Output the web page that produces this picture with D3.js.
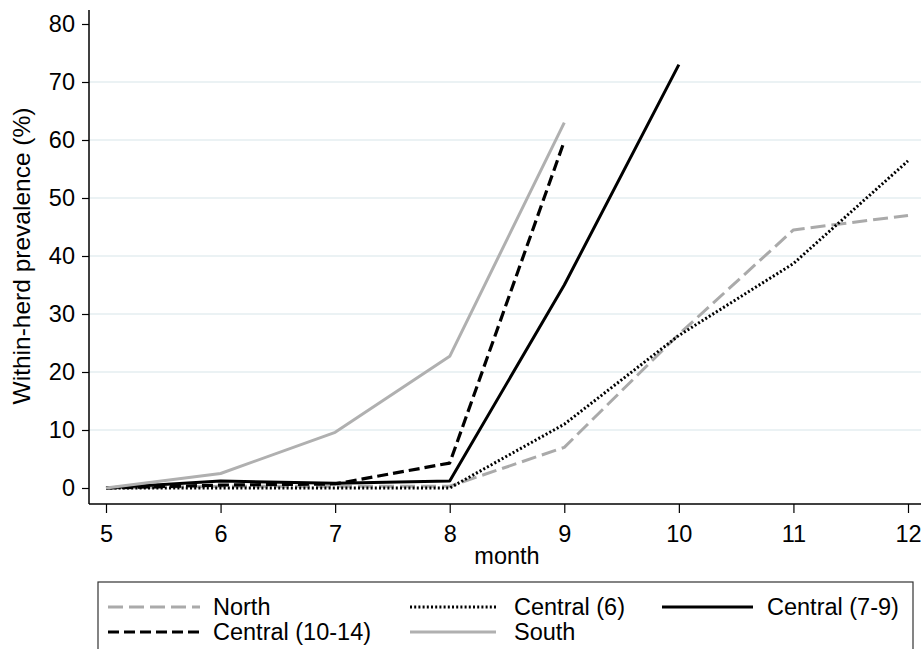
<!DOCTYPE html>
<html>
<head>
<meta charset="utf-8">
<script src="https://cdn.jsdelivr.net/npm/d3@7"></script>
<style>
  body { margin: 0; background: #fff; }
  svg { display: block; font-family: Arial, "Liberation Sans", sans-serif; }
</style>
</head>
<body>
<svg id="chart" width="921" height="649"></svg>
<script>
// Data - months and within-herd prevalence (%) per region
const months = [5, 6, 7, 8, 9, 10, 11, 12];
const north = [0, 0.3, 0.3, 0.3, 7, 26.5, 44.5, 47];
const central6 = [0, 0, 0, 0, 11, 26.3, 38.7, 56.4];
const central79 = [0, 1.2, 0.8, 1.2, 35, 73];
const central1014 = [0, 0.5, 0.7, 4.3, 59.8];
const south = [0, 2.5, 9.6, 22.7, 63];

const yTicks = [0, 10, 20, 30, 40, 50, 60, 70, 80];
const xTicks = [5, 6, 7, 8, 9, 10, 11, 12];

const series = [
    { name: "North", values: north, color: "#aaaaaa", width: 3, dash: "15,6" },
    { name: "Central (6)", values: central6, color: "#000", width: 3, dash: "2,2.2" },
    { name: "Central (7-9)", values: central79, color: "#000", width: 3, dash: null },
    { name: "Central (10-14)", values: central1014, color: "#000", width: 3.2, dash: "11,5" },
    { name: "South", values: south, color: "#b0b0b0", width: 3, dash: null }
];

const fontSize = "23.5px";

// Dimensions
const plot = { left: 89, right: 921, top: 10, bottom: 504 };

const x = d3.scaleLinear().domain([5, 12]).range([106, 908]);
const y = d3.scaleLinear().domain([0, 80]).range([488, 24]);

const svg = d3.select("#chart");

// Gridlines
svg.append("g")
    .selectAll("line")
    .data(yTicks.filter(d => d > 0 && d < 80))
    .join("line")
    .attr("x1", plot.left)
    .attr("x2", plot.right)
    .attr("y1", d => y(d))
    .attr("y2", d => y(d))
    .attr("stroke", "#e4eef1")
    .attr("stroke-width", 1.5);

// Axes
const yAxis = svg.append("g")
    .attr("transform", `translate(${plot.left},0)`)
    .call(d3.axisLeft(y).tickValues(yTicks).tickFormat(d3.format("d"))
        .tickSize(7).tickPadding(7).tickSizeOuter(0));
yAxis.select(".domain").remove();

const xAxis = svg.append("g")
    .attr("transform", `translate(0,${plot.bottom})`)
    .call(d3.axisBottom(x).tickValues(xTicks).tickFormat(d3.format("d"))
        .tickSize(9).tickPadding(12).tickSizeOuter(0));
xAxis.select(".domain").remove();

svg.selectAll(".tick text")
    .attr("font-size", fontSize)
    .attr("font-family", "Arial, 'Liberation Sans', sans-serif")
    .attr("fill", "#000");
svg.selectAll(".tick line").attr("stroke", "#000").attr("stroke-width", 1.2);

svg.append("line")
    .attr("x1", plot.left).attr("x2", plot.left)
    .attr("y1", plot.top).attr("y2", plot.bottom)
    .attr("stroke", "#000").attr("stroke-width", 1.5);
svg.append("line")
    .attr("x1", plot.left).attr("x2", plot.right)
    .attr("y1", plot.bottom).attr("y2", plot.bottom)
    .attr("stroke", "#000").attr("stroke-width", 1.5);

// Axis titles
svg.append("text")
    .attr("transform", `translate(30,${(y(0) + y(80)) / 2}) rotate(-90)`)
    .attr("text-anchor", "middle")
    .attr("font-size", "24.5px")
    .text("Within-herd prevalence (%)");

svg.append("text")
    .attr("x", (x(5) + x(12)) / 2)
    .attr("y", 564)
    .attr("text-anchor", "middle")
    .attr("font-size", fontSize)
    .text("month");

// Lines
const line = d3.line()
    .x((d, i) => x(months[i]))
    .y(d => y(d));

svg.append("g")
    .selectAll("path")
    .data(series)
    .join("path")
    .attr("d", d => line(d.values))
    .attr("fill", "none")
    .attr("stroke", d => d.color)
    .attr("stroke-width", d => d.width)
    .attr("stroke-dasharray", d => d.dash)
    .attr("stroke-linejoin", "round");

// Legend
const legendBox = { x: 98, y: 582, w: 815, h: 90 };
svg.append("rect")
    .attr("x", legendBox.x).attr("y", legendBox.y)
    .attr("width", legendBox.w).attr("height", legendBox.h)
    .attr("fill", "#fff")
    .attr("stroke", "#333")
    .attr("stroke-width", 1.2);

const legendCols = [
    { x1: 108, x2: 200, tx: 213 },
    { x1: 410, x2: 496, tx: 514 },
    { x1: 662, x2: 753, tx: 767 }
];
const legendRows = [607, 632];

const items = svg.append("g")
    .selectAll("g")
    .data(series)
    .join("g")
    .attr("transform", (d, i) => `translate(0,${legendRows[Math.floor(i / 3)]})`);

items.append("line")
    .attr("x1", (d, i) => legendCols[i % 3].x1)
    .attr("x2", (d, i) => legendCols[i % 3].x2)
    .attr("stroke", d => d.color)
    .attr("stroke-width", d => d.width)
    .attr("stroke-dasharray", d => d.dash);

items.append("text")
    .attr("x", (d, i) => legendCols[i % 3].tx)
    .attr("dy", "0.36em")
    .attr("font-size", fontSize)
    .text(d => d.name);
</script>
</body>
</html>
